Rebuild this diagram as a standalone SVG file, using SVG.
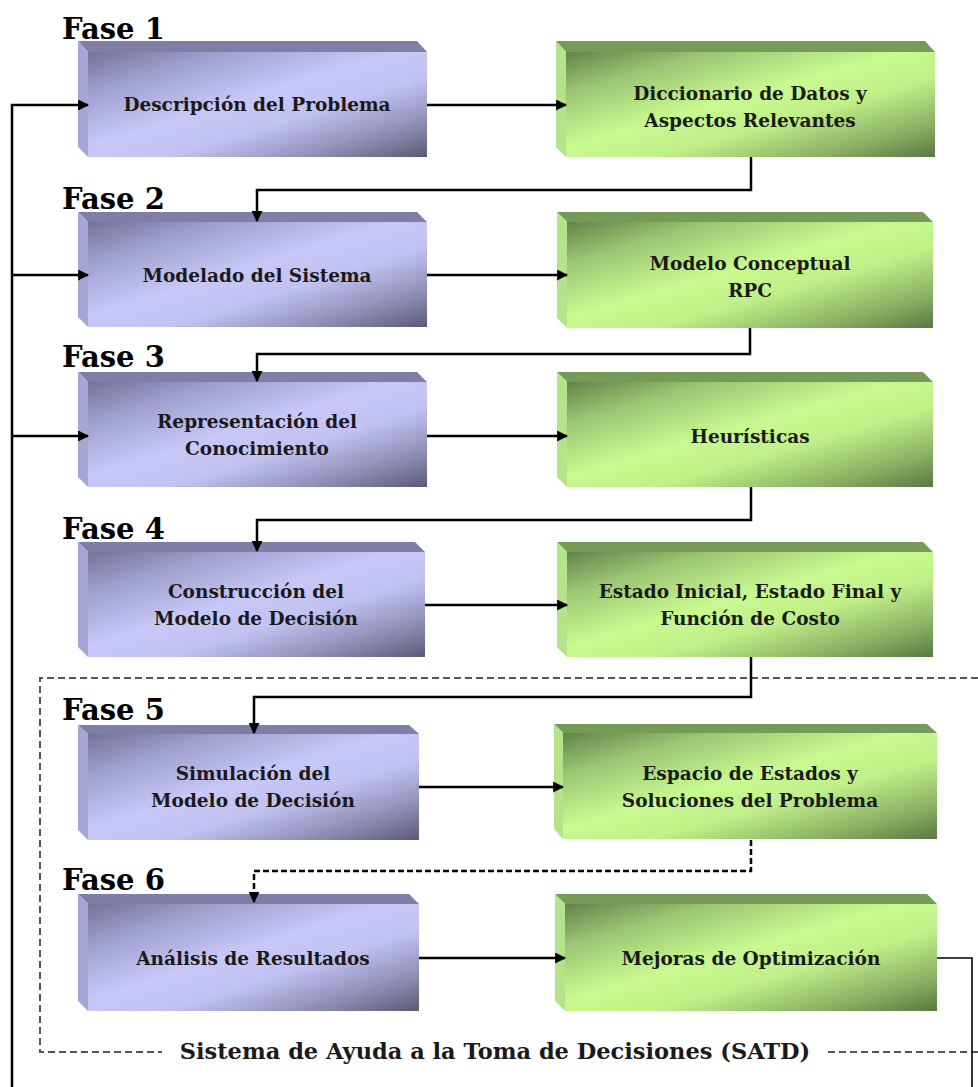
<svg xmlns="http://www.w3.org/2000/svg" width="978" height="1087" viewBox="0 0 978 1087">
<defs>
<linearGradient id="bf" x1="0" y1="0" x2="1" y2="1">
<stop offset="0" stop-color="#72729a"/>
<stop offset="0.2" stop-color="#a0a0ce"/>
<stop offset="0.45" stop-color="#c8c8f8"/>
<stop offset="0.62" stop-color="#c2c2f2"/>
<stop offset="0.85" stop-color="#8888ae"/>
<stop offset="1" stop-color="#5a5a74"/>
</linearGradient>
<linearGradient id="gf" x1="0" y1="0" x2="1" y2="1">
<stop offset="0" stop-color="#62844a"/>
<stop offset="0.2" stop-color="#9cc674"/>
<stop offset="0.45" stop-color="#c8fa90"/>
<stop offset="0.62" stop-color="#c0f088"/>
<stop offset="0.85" stop-color="#88ac62"/>
<stop offset="1" stop-color="#587842"/>
</linearGradient>
<marker id="ah" viewBox="0 0 10 10" refX="9" refY="5" markerWidth="4.4" markerHeight="4.4" orient="auto" markerUnits="strokeWidth">
<path d="M0,0 L10,5 L0,10 z" fill="#000"/>
</marker>
<style>
.bt{fill:#7e7ea6}
.bl{fill:#a6a6d6}
.gt{fill:#789a58}
.gl{fill:#b4e48a}
.bfr{fill:url(#bf)}
.gfr{fill:url(#gf)}
.t{font-family:"DejaVu Serif","Liberation Serif",serif;font-weight:bold;font-size:18.5px;fill:#1a1a1a;text-anchor:middle}
.f{font-family:"DejaVu Serif","Liberation Serif",serif;font-weight:bold;font-size:29px;fill:#000}
.s{font-family:"DejaVu Serif","Liberation Serif",serif;font-weight:bold;font-size:22.5px;fill:#1a1a1a;text-anchor:middle}
.c{fill:none;stroke:#000;stroke-width:2.5}
.cd{fill:none;stroke:#000;stroke-width:2.5;stroke-dasharray:6 3}
.fb{fill:none;stroke:#000;stroke-width:1.6}
.sd{fill:none;stroke:#555;stroke-width:2;stroke-dasharray:7 4}
</style>
</defs>
<rect width="978" height="1087" fill="#fff"/>

<g id="satd">
<path class="sd" d="M978,678 H40 V1052 H162"/>
<path class="sd" d="M828,1052 H978"/>
<text class="s" x="495" y="1059">Sistema de Ayuda a la Toma de Decisiones (SATD)</text>
</g>

<g id="labels">
<text class="f" x="62" y="39">Fase 1</text>
<text class="f" x="62" y="209">Fase 2</text>
<text class="f" x="62" y="367">Fase 3</text>
<text class="f" x="62" y="539">Fase 4</text>
<text class="f" x="62" y="720">Fase 5</text>
<text class="f" x="62" y="890">Fase 6</text>
</g>

<g id="b1">
<polygon class="bt" points="78,41 417,41 427,52 88,52"/>
<polygon class="bl" points="78,41 88,52 88,157 78,147"/>
<rect class="bfr" x="88" y="52" width="339" height="105"/>
<text class="t" x="257" y="111">Descripción del Problema</text>
</g>
<g id="g1">
<polygon class="gt" points="556,41 925,41 935,52 566,52"/>
<polygon class="gl" points="556,41 566,52 566,157 556,147"/>
<rect class="gfr" x="566" y="52" width="369" height="105"/>
<text class="t" x="750" y="100">Diccionario de Datos y</text>
<text class="t" x="750" y="127">Aspectos Relevantes</text>
</g>

<g id="b2">
<polygon class="bt" points="78,212 417,212 427,222 88,222"/>
<polygon class="bl" points="78,212 88,222 88,327 78,317"/>
<rect class="bfr" x="88" y="222" width="339" height="105"/>
<text class="t" x="257" y="282">Modelado del Sistema</text>
</g>
<g id="g2">
<polygon class="gt" points="557,212 923,212 933,222 567,222"/>
<polygon class="gl" points="557,212 567,222 567,328 557,318"/>
<rect class="gfr" x="567" y="222" width="366" height="106"/>
<text class="t" x="750" y="270">Modelo Conceptual</text>
<text class="t" x="750" y="297">RPC</text>
</g>

<g id="b3">
<polygon class="bt" points="78,372 417,372 427,382 88,382"/>
<polygon class="bl" points="78,372 88,382 88,487 78,477"/>
<rect class="bfr" x="88" y="382" width="339" height="105"/>
<text class="t" x="257" y="428">Representación del</text>
<text class="t" x="257" y="455">Conocimiento</text>
</g>
<g id="g3">
<polygon class="gt" points="557,372 923,372 933,382 567,382"/>
<polygon class="gl" points="557,372 567,382 567,487 557,477"/>
<rect class="gfr" x="567" y="382" width="366" height="105"/>
<text class="t" x="750" y="443">Heurísticas</text>
</g>

<g id="b4">
<polygon class="bt" points="78,542 415,542 425,552 88,552"/>
<polygon class="bl" points="78,542 88,552 88,657 78,647"/>
<rect class="bfr" x="88" y="552" width="337" height="105"/>
<text class="t" x="256" y="598">Construcción del</text>
<text class="t" x="256" y="625">Modelo de Decisión</text>
</g>
<g id="g4">
<polygon class="gt" points="557,542 923,542 933,552 567,552"/>
<polygon class="gl" points="557,542 567,552 567,657 557,647"/>
<rect class="gfr" x="567" y="552" width="366" height="105"/>
<text class="t" x="750" y="598">Estado Inicial, Estado Final y</text>
<text class="t" x="750" y="625">Función de Costo</text>
</g>

<g id="b5">
<polygon class="bt" points="78,725 409,725 419,734 88,734"/>
<polygon class="bl" points="78,725 88,734 88,840 78,830"/>
<rect class="bfr" x="88" y="734" width="331" height="106"/>
<text class="t" x="253" y="780">Simulación del</text>
<text class="t" x="253" y="807">Modelo de Decisión</text>
</g>
<g id="g5">
<polygon class="gt" points="554,724 927,724 937,733 563,733"/>
<polygon class="gl" points="554,724 563,733 563,839 554,829"/>
<rect class="gfr" x="563" y="733" width="374" height="106"/>
<text class="t" x="750" y="780">Espacio de Estados y</text>
<text class="t" x="750" y="807">Soluciones del Problema</text>
</g>

<g id="b6">
<polygon class="bt" points="78,894 409,894 419,904 88,904"/>
<polygon class="bl" points="78,894 88,904 88,1011 78,1001"/>
<rect class="bfr" x="88" y="904" width="331" height="107"/>
<text class="t" x="253" y="965">Análisis de Resultados</text>
</g>
<g id="g6">
<polygon class="gt" points="555,894 927,894 937,904 565,904"/>
<polygon class="gl" points="555,894 565,904 565,1011 555,1001"/>
<rect class="gfr" x="565" y="904" width="372" height="107"/>
<text class="t" x="751" y="965">Mejoras de Optimización</text>
</g>

<g id="connectors">
<path class="c" d="M12,1087 V105 H88" marker-end="url(#ah)"/>
<path class="c" d="M12,275 H88" marker-end="url(#ah)"/>
<path class="c" d="M12,436 H88" marker-end="url(#ah)"/>
<path class="c" d="M427,105 H566" marker-end="url(#ah)"/>
<path class="c" d="M427,275 H567" marker-end="url(#ah)"/>
<path class="c" d="M427,436 H567" marker-end="url(#ah)"/>
<path class="c" d="M425,605 H567" marker-end="url(#ah)"/>
<path class="c" d="M419,787 H563" marker-end="url(#ah)"/>
<path class="c" d="M419,958 H565" marker-end="url(#ah)"/>
<path class="c" d="M751,157 V190 H257 V221" marker-end="url(#ah)"/>
<path class="c" d="M750,328 V354 H257 V381" marker-end="url(#ah)"/>
<path class="c" d="M751,487 V520 H257 V551" marker-end="url(#ah)"/>
<path class="c" d="M751,657 V697 H254 V733" marker-end="url(#ah)"/>
<path class="cd" d="M751,840 V871 H254 V902" marker-end="url(#ah)"/>
<path class="fb" d="M937,958 H972 V1087"/>
</g>
</svg>
